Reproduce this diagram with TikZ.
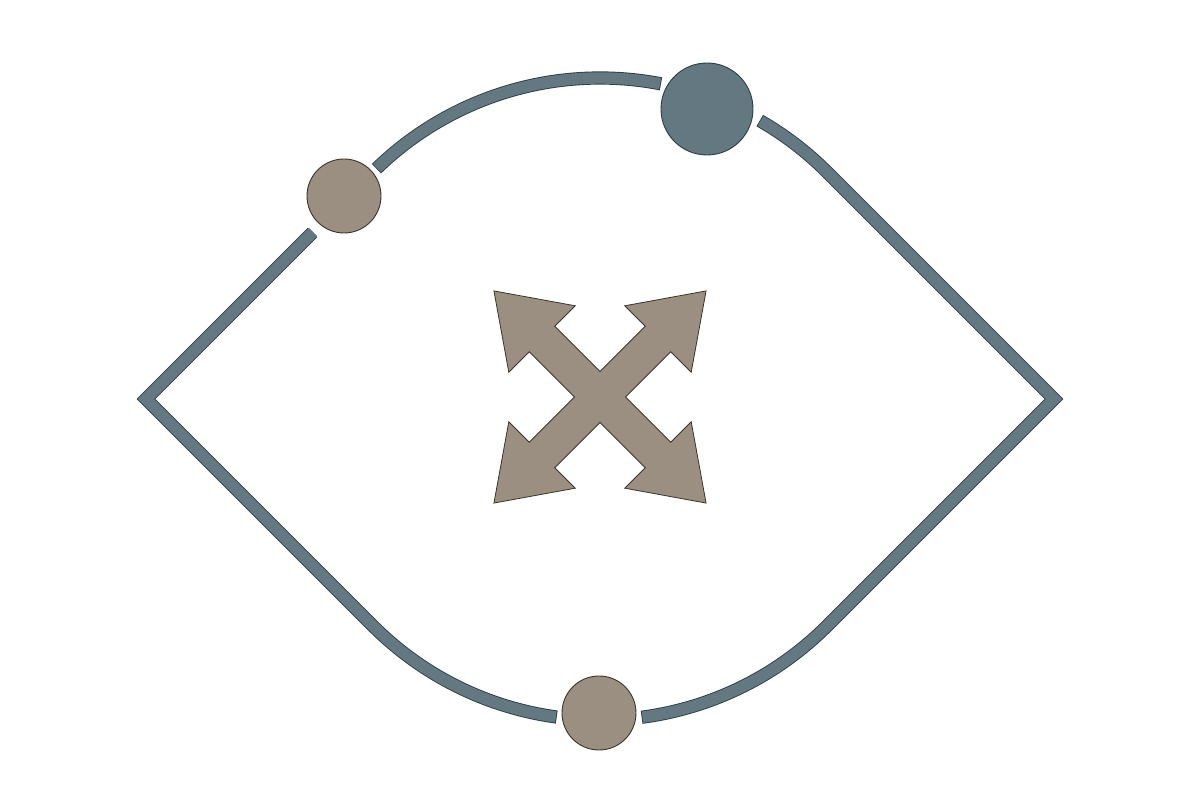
\documentclass[tikz,border=0pt]{standalone}
\usetikzlibrary{calc}
\definecolor{slate}{HTML}{637880}
\definecolor{slateedge}{HTML}{2C3D44}
\definecolor{taupe}{HTML}{9A8F80}
\definecolor{taupeedge}{HTML}{3B342A}
\begin{document}
\begin{tikzpicture}[x=1pt,y=1pt,
  ringedge/.style={draw=slateedge, line width=13.2pt, line join=miter},
  ringcore/.style={draw=slate, line width=11.4pt, line join=miter},
  tanball/.style={circle, fill=taupe, draw=taupeedge, line width=0.9pt, minimum size=74pt, inner sep=0pt},
  slateball/.style={circle, fill=slate, draw=slateedge, line width=0.9pt, minimum size=92pt, inner sep=0pt},
  crossarrow/.style={fill=taupe, draw=taupeedge, line width=0.8pt, line join=miter}]
\useasboundingbox (0,0) rectangle (1200,800);
\begin{scope}[shift={(600,401)}]
  \foreach \sty/\e in {ringedge/0.15, ringcore/0} {
    \pgfmathsetmacro{\aS}{134+\e}
    \pgfmathsetmacro{\aE}{79.2-\e}
    \pgfmathsetmacro{\bS}{60+\e}
    \pgfmathsetmacro{\bE}{-82.4-\e}
    \pgfmathsetmacro{\cS}{-97.9+\e}
    \pgfmathsetmacro{\ex}{-287-0.6*\e/0.15}
    \pgfmathsetmacro{\ey}{167-0.6*\e/0.15}
    \path[\sty] (\aS:321) arc[start angle=\aS, end angle=\aE, radius=321];
    \path[\sty] (\bS:321) arc[start angle=\bS, end angle=45, radius=321]
      -- (454,0) -- (-45:321) arc[start angle=-45, end angle=\bE, radius=321];
    \path[\sty] (\cS:321) arc[start angle=\cS, end angle=-135, radius=321]
      -- (-454,0) -- (\ex,\ey);
  }
  \node[tanball] (tanA) at (-256,203) {};
  \node[slateball] (slateB) at (107,290) {};
  \node[tanball] (tanC) at (-1,-314) {};
  \begin{scope}[shift={(0,2)}]
    \path[crossarrow] (0:25.46)
      \foreach \a in {45,135,225,315} {
        -- (\a-12.38:83.95) -- (\a-29.82:94.51) -- (\a:150)
        -- (\a+29.82:94.51) -- (\a+12.38:83.95) -- (\a+45:25.46)
      } -- cycle;
  \end{scope}
\end{scope}
\end{tikzpicture}
\end{document}
